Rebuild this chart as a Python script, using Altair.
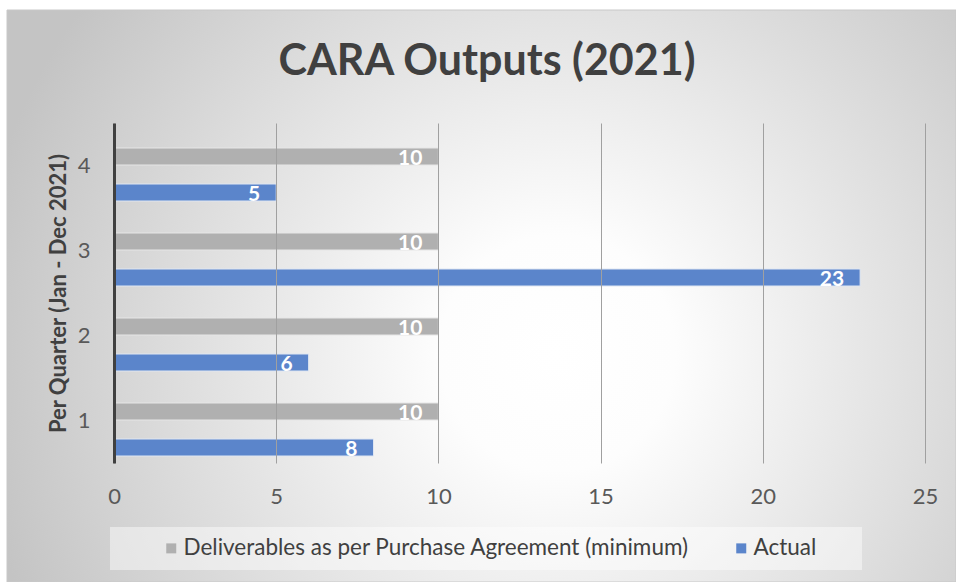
import altair as alt
import pandas as pd

quarters = ["1", "2", "3", "4"]
deliverables = [10, 10, 10, 10]
actual = [8, 6, 23, 5]
series_names = ["Deliverables as per Purchase Agreement (minimum)", "Actual"]
series_colors = ["#b0b0b0", "#5b85cb"]
x_ticks = [0, 5, 10, 15, 20, 25]
chart_title = "CARA Outputs (2021)"

rows = []
for q, d, a in zip(quarters, deliverables, actual):
    rows.append({"quarter": q, "series": series_names[0], "value": d})
    rows.append({"quarter": q, "series": series_names[1], "value": a})
df = pd.DataFrame(rows)

FONT = "Lato"
order = ["4", "3", "2", "1"]

y_enc = alt.Y(
    "quarter:N",
    sort=order,
    scale=alt.Scale(paddingInner=0, paddingOuter=0),
    axis=alt.Axis(
        title="Per Quarter (Jan - Dec 2021)",
        titleFont=FONT, titleFontSize=22, titleFontWeight="bold", titleColor="#404040",
        titleX=-56, titleY=170, titleAngle=-90, titleAlign="center", titleBaseline="middle",
        labelFont=FONT, labelFontSize=22, labelColor="#595959", labelPadding=24,
        ticks=False, domainColor="#404040", domainWidth=3, grid=False, labelAngle=0,
        zindex=2,
    ),
)
x_enc = alt.X(
    "value:Q",
    scale=alt.Scale(domain=[0, 25], nice=False),
    axis=alt.Axis(
        values=x_ticks, title=None, domain=False, ticks=False, grid=True,
        gridColor="#a0a0a0", gridWidth=1, labelFlush=False,
        labelFont=FONT, labelFontSize=22, labelColor="#595959", labelPadding=23,
        zindex=1,
    ),
)
color_enc = alt.Color(
    "series:N",
    scale=alt.Scale(domain=series_names, range=series_colors),
    legend=alt.Legend(
        title=None, orient="none", direction="horizontal", legendX=46, legendY=414,
        symbolType="square", symbolSize=100, symbolStrokeWidth=0,
        labelFont=FONT, labelFontSize=22.5, labelColor="#404040", labelOffset=1,
        columnPadding=40, padding=0, labelLimit=700,
    ),
)

base = alt.Chart(df)

dummy = alt.Data(values=[{"k": 1}])
bg = alt.Chart(dummy).mark_rect(
    fill={
        "gradient": "radial",
        "x1": 0.58, "y1": 0.56, "r1": 0,
        "x2": 0.58, "y2": 0.56, "r2": 0.62,
        "stops": [
            {"offset": 0, "color": "#ffffff"},
            {"offset": 0.2, "color": "#fdfdfd"},
            {"offset": 1, "color": "#c4c4c4"},
        ],
    },
    stroke="#c8c8c8", strokeWidth=1,
).encode(x=alt.value(-107), x2=alt.value(842), y=alt.value(-113), y2=alt.value(459))

legend_box = alt.Chart(dummy).mark_rect(fill="#ffffff", opacity=0.45).encode(
    x=alt.value(-4), x2=alt.value(748), y=alt.value(404), y2=alt.value(447)
)

title_text = alt.Chart(dummy).mark_text(
    font=FONT, fontSize=43, fontWeight="bold", color="#404040",
    align="center", baseline="alphabetic",
).encode(x=alt.value(373), y=alt.value(-48), text=alt.value(chart_title))

gray_bars = base.transform_filter(alt.datum.series == series_names[0]).mark_bar(
    height=17, yOffset=-9, stroke="#e6e6e6", strokeWidth=1
).encode(x=x_enc, y=y_enc, color=color_enc)
blue_bars = base.transform_filter(alt.datum.series == series_names[1]).mark_bar(
    height=17, yOffset=27, stroke="#dfe6f2", strokeWidth=1
).encode(x=x_enc, y=y_enc, color=color_enc)

gray_text = base.transform_filter(alt.datum.series == series_names[0]).mark_text(
    align="right", baseline="middle", dx=-16, yOffset=-7, font=FONT, fontSize=21,
    fontWeight="bold", color="#ffffff"
).encode(x="value:Q", y=alt.Y("quarter:N", sort=order), text="value:Q")
blue_text = base.transform_filter(alt.datum.series == series_names[1]).mark_text(
    align="right", baseline="middle", dx=-16, yOffset=29, font=FONT, fontSize=21,
    fontWeight="bold", color="#ffffff"
).encode(x="value:Q", y=alt.Y("quarter:N", sort=order), text="value:Q")

chart = alt.layer(bg, legend_box, title_text, gray_bars, blue_bars, gray_text, blue_text).properties(
    width=811, height=340,
    autosize=alt.AutoSizeParams(type="none"),
    padding={"left": 114, "top": 123, "right": 31, "bottom": 119},
    background="#ffffff",
).configure_view(stroke=None)

chart.save("out.html", embed_options={"renderer": "svg", "actions": False})
